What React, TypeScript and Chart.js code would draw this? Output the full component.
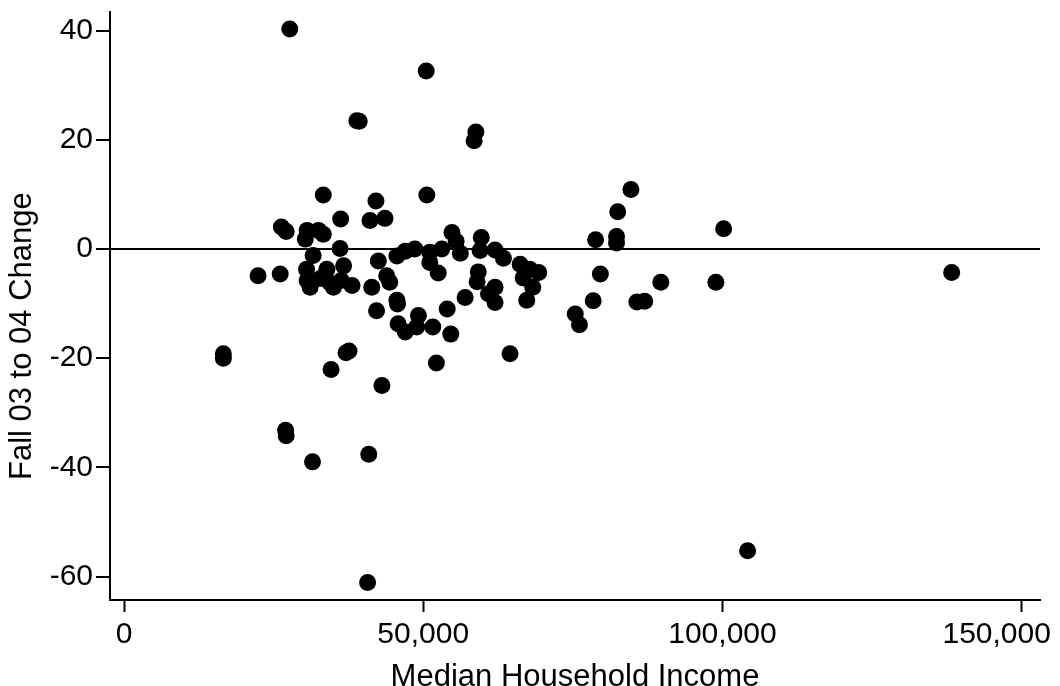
import React, { useEffect, useRef } from 'react';
import { Chart, registerables } from 'chart.js';

Chart.register(...registerables);

// Median household income (x) for each district
const incomeValues: number[] = [
  27700, 50500, 38900, 39300, 58800, 58500, 50600, 33300, 42100, 41100,
  43600, 36200, 84700, 82500, 78800, 82300, 82300, 100200, 26300, 27100,
  30300, 30600, 32500, 33300, 36100, 54800, 55500, 59700, 59500, 62000,
  63400, 47000, 48600, 45600, 51100, 51100, 53100, 56200, 52500, 42500,
  43900, 44400, 41400, 45600, 57000, 59200, 59000, 66200, 67800, 69300,
  66700, 68300, 67300, 62000, 60900, 62000, 79600, 89700, 98900, 138300,
  78400, 85700, 87000, 75400, 76100, 104200, 22400, 26100, 31600, 30500,
  33900, 36700, 31100, 30600, 35000, 38100, 32800, 34400, 36300, 42200,
  16600, 16600, 34600, 37100, 37600, 27000, 27100, 31500, 40700, 40900,
  43100, 52200, 64500, 45700, 45800, 47000, 49200, 48900, 51600, 54000,
  54600,
];

// Fall 03 to 04 change (y) for each district
const changeValues: number[] = [
  40.3, 32.6, 23.5, 23.4, 21.4, 19.8, 9.9, 9.9, 8.8, 5.2,
  5.6, 5.5, 10.9, 6.8, 1.7, 1.1, 2.3, 3.7, 4.0, 3.2,
  1.8, 3.4, 3.4, 2.7, 0.1, 3.0, 1.4, 2.1, -0.3, -0.2,
  -1.7, -0.4, 0.0, -1.3, -0.6, -2.5, 0.0, -0.8, -4.4, -2.2,
  -4.9, -6.1, -7.0, -9.4, -8.9, -4.2, -6.0, -2.8, -3.7, -4.3,
  -5.3, -7.0, -9.4, -7.0, -8.2, -9.8, -4.6, -6.1, -6.1, -4.3,
  -9.5, -9.7, -9.6, -11.9, -13.9, -55.3, -4.9, -4.6, -1.2, -3.7,
  -3.7, -3.1, -7.0, -5.8, -7.0, -6.7, -5.4, -6.2, -5.8, -11.3,
  -19.2, -20.0, -22.1, -19.0, -18.7, -33.2, -34.2, -39.0, -61.1, -37.6,
  -25.0, -20.9, -19.2, -10.1, -13.7, -15.2, -12.2, -14.3, -14.3, -11.0,
  -15.6,
];

const xTickValues: number[] = [0, 50000, 100000, 150000];
const yTickValues: number[] = [-60, -40, -20, 0, 20, 40];

const xAxisTitle = 'Median Household Income';
const yAxisTitle = 'Fall 03 to 04 Change';

const X_MIN = -2340;
const X_MAX = 153060;
const Y_MIN = -64.3;
const Y_MAX = 43.4;

const FONT_FAMILY = '"Liberation Sans", Arial, Helvetica, sans-serif';

export default function App() {
  const canvasRef = useRef<HTMLCanvasElement>(null);

  useEffect(() => {
    if (!canvasRef.current) return;
    const points = incomeValues.map((x, i) => ({ x, y: changeValues[i] }));
    const chart = new Chart(canvasRef.current, {
      type: 'scatter',
      data: {
        datasets: [
          {
            data: points,
            backgroundColor: '#000',
            borderColor: '#000',
            pointRadius: 8.5,
            pointHoverRadius: 8.5,
            pointBorderWidth: 0,
          },
        ],
      },
      options: {
        animation: false,
        responsive: true,
        maintainAspectRatio: false,
        layout: { padding: { left: 0, right: 20, top: 12, bottom: 0 } },
        plugins: {
          legend: { display: false },
          tooltip: { enabled: false },
        },
        scales: {
          x: {
            type: 'linear',
            min: X_MIN,
            max: X_MAX,
            afterBuildTicks: (scale: any) => {
              scale.ticks = xTickValues.map((v) => ({ value: v }));
            },
            afterFit: (scale: any) => {
              scale.height = 86;
              scale.paddingLeft = 0;
              scale.paddingRight = 0;
            },
            grid: {
              drawOnChartArea: false,
              drawTicks: true,
              tickLength: 12,
              tickColor: '#000',
              tickWidth: 2,
              color: '#000',
            },
            border: { display: true, color: '#000', width: 2 },
            ticks: {
              color: '#000',
              padding: 5,
              font: { family: FONT_FAMILY, size: 30 },
              maxRotation: 0,
              autoSkip: false,
              callback: (value: any) => {
                const s = Number(value).toLocaleString('en-US');
                return Number(value) === 150000 ? s + '      ' : s;
              },
            },
            title: {
              display: true,
              text: xAxisTitle,
              color: '#000',
              padding: 0,
              font: { family: FONT_FAMILY, size: 31, lineHeight: 0.55 },
            },
          },
          y: {
            type: 'linear',
            min: Y_MIN,
            max: Y_MAX,
            afterBuildTicks: (scale: any) => {
              scale.ticks = yTickValues.map((v) => ({ value: v }));
            },
            afterFit: (scale: any) => {
              scale.width = 110;
              scale.paddingTop = 0;
              scale.paddingBottom = 0;
            },
            grid: {
              drawOnChartArea: true,
              drawTicks: true,
              tickLength: 14,
              tickColor: '#000',
              tickWidth: 2,
              color: (ctx: any) => (ctx.tick && ctx.tick.value === 0 ? '#000' : 'rgba(0,0,0,0)'),
              lineWidth: 2,
            },
            border: { display: true, color: '#000', width: 2 },
            ticks: {
              color: '#000',
              padding: 3,
              font: { family: FONT_FAMILY, size: 30 },
              autoSkip: false,
              callback: (value: any) => String(Number(value)),
            },
            title: {
              display: true,
              text: yAxisTitle + '       ',
              color: '#000',
              padding: { top: 4, bottom: 0 },
              font: { family: FONT_FAMILY, size: 31, lineHeight: 1.2 },
            },
          },
        },
      },
    });
    return () => chart.destroy();
  }, []);

  return (
    <div style={{ position: 'absolute', left: 0, top: 0, width: 1060, height: 686 }}>
      <canvas ref={canvasRef} />
    </div>
  );
}
